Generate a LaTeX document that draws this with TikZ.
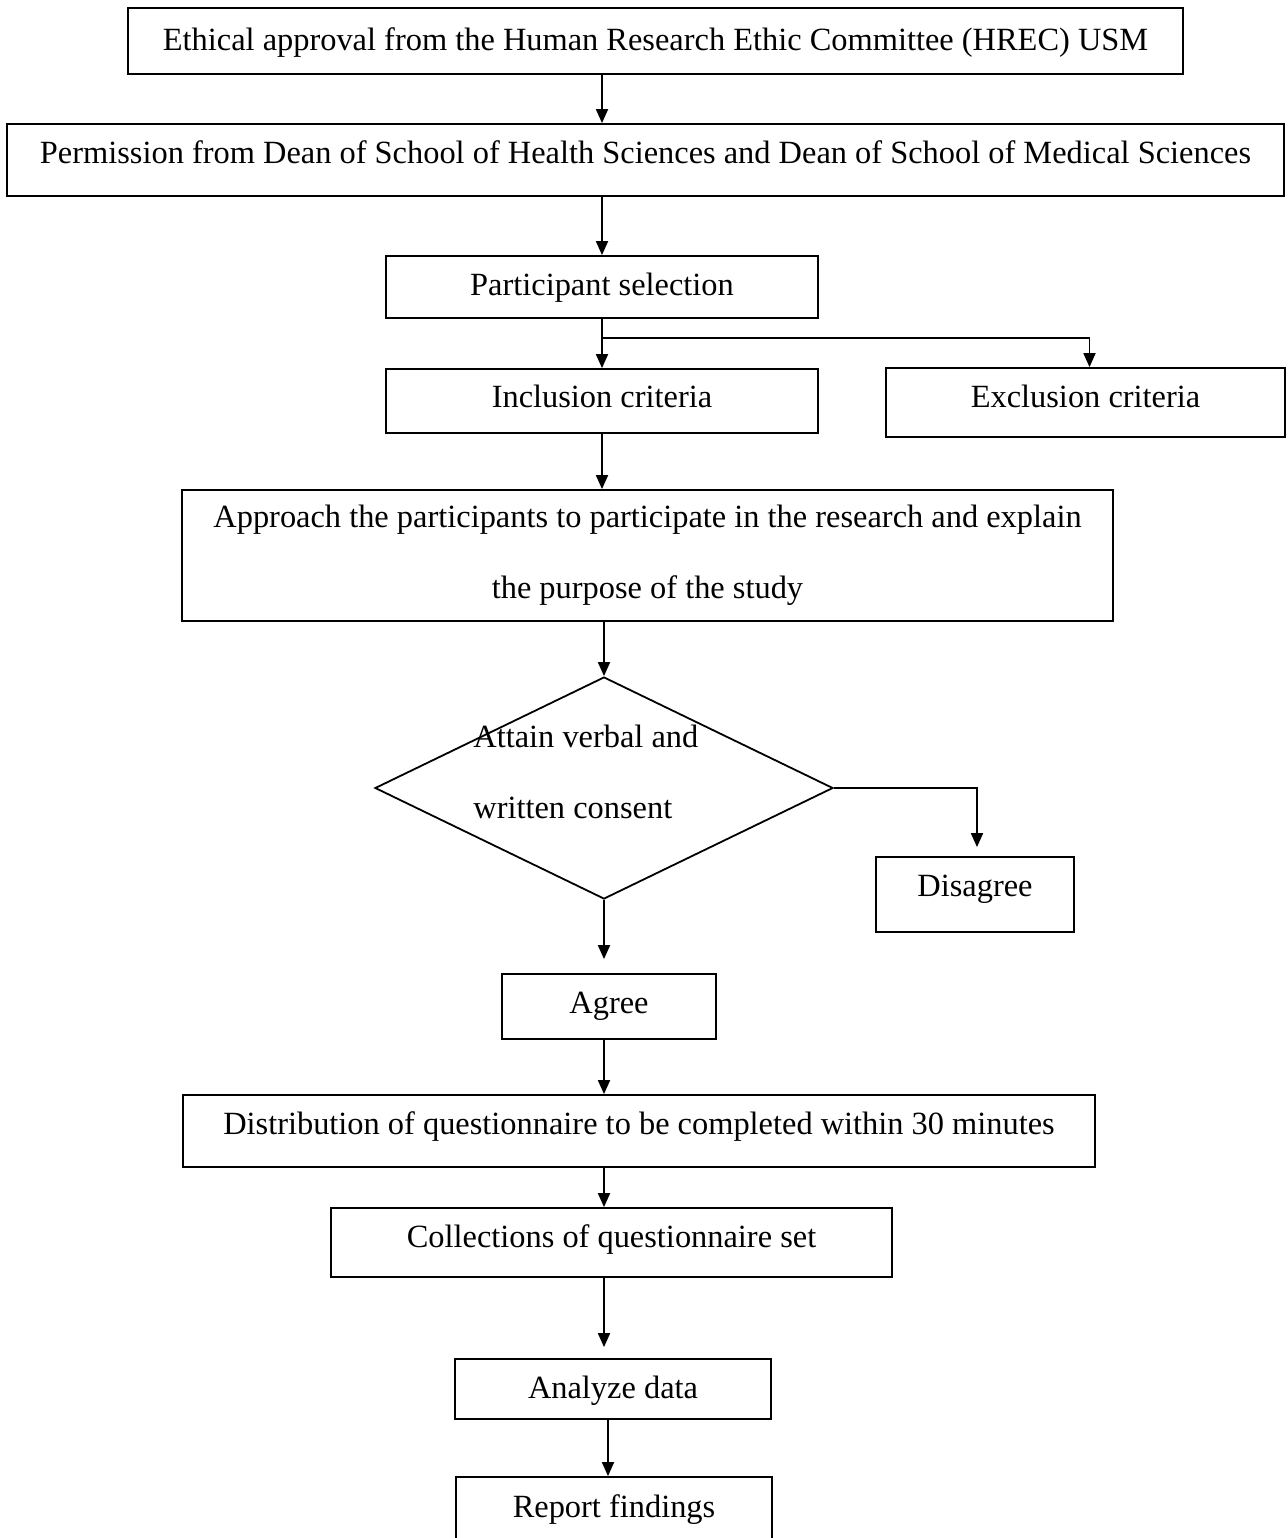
\documentclass[tikz,border=0pt]{standalone}
\usepackage{fontspec}
\setmainfont{Liberation Serif}
\usetikzlibrary{shapes.geometric,arrows.meta}
\newcommand\flowfont{\fontsize{16.2}{19}\selectfont}
\tikzset{
  box/.style={draw, line width=0.9pt, inner sep=0pt, font=\flowfont,
              text height=14.5pt, text depth=#1},
  box/.default=4pt,
  arr/.style={line width=0.9pt, -{Triangle[length=7pt,width=6pt]}},
  link/.style={line width=0.9pt}
}
\begin{document}
\begin{tikzpicture}[x=0.5pt,y=-0.5pt]
\useasboundingbox (0,0) rectangle (1287,1538);

% process boxes
\node[box=5pt,  minimum width=527.5pt, minimum height=33pt] (eth) at (655.5,41)
  {Ethical approval from the Human Research Ethic Committee (HREC) USM};
\node[box=11pt, minimum width=638.5pt, minimum height=36pt] (perm) at (645.5,160)
  {Permission from Dean of School of Health Sciences and Dean of School of Medical Sciences};
\node[box=6pt,  minimum width=216pt, minimum height=31pt] (sel) at (602,287)
  {Participant selection};
\node[box=8pt,  minimum width=216pt, minimum height=32pt] (inc) at (602,401)
  {Inclusion criteria};
\node[box=9.5pt, minimum width=199.5pt, minimum height=34.5pt] (exc) at (1085.5,402.5)
  {Exclusion criteria};
\node[draw, line width=0.9pt, inner sep=0pt, font=\flowfont, align=center,
      minimum width=465.5pt, minimum height=65.5pt] (app) at (647.5,555.5)
  {Approach the participants to participate in the research and explain\\[16.5pt]
   the purpose of the study};

% decision
\node[diamond, draw, line width=0.9pt, inner sep=0pt,
      minimum width=229pt, minimum height=111pt] (dia) at (604,788) {};
\node[font=\flowfont, align=left, inner sep=0pt, anchor=west] (dtext) at (473,771.5)
  {Attain verbal and\\[16.5pt]written consent};

\node[box=12.5pt, minimum width=99pt, minimum height=37.5pt] (dis) at (975,894.5)
  {Disagree};
\node[box=7.5pt, minimum width=107pt, minimum height=32.5pt] (agr) at (609,1006.5)
  {Agree};
\node[box=11pt, minimum width=456pt, minimum height=36pt] (dist) at (639,1131)
  {Distribution of questionnaire to be completed within 30 minutes};
\node[box=9.5pt, minimum width=280.5pt, minimum height=34.5pt] (col) at (611.5,1242.5)
  {Collections of questionnaire set};
\node[box=5pt, minimum width=158pt, minimum height=30pt] (ana) at (613,1389)
  {Analyze data};
\node[box=6pt, minimum width=158pt, minimum height=32pt] (rep) at (614,1509)
  {Report findings};

% connectors
\coordinate (br) at (602,338);
\draw[arr] (eth.south -| sel) -- (perm.north -| sel);
\draw[arr] (perm.south -| sel) -- (sel.north);
\draw[arr] (sel.south) -- (inc.north);
\draw[arr] (br) -| ([xshift=2pt]exc.north);
\draw[arr] (inc.south) -- (app.north -| inc);
\draw[arr] (app.south -| dia) -- (dia.north);
\draw[arr, shorten >=4.5pt] (dia.east) -| ([xshift=1pt]dis.north);
\draw[arr, shorten >=7pt] (dia.south) -- (agr.north -| dia);
\draw[arr] (agr.south -| dia) -- (dist.north -| dia);
\draw[arr] (dist.south -| dia) -- (col.north -| dia);
\draw[arr, shorten >=5.5pt] (col.south -| dia) -- (ana.north -| dia);
\draw[arr] ([xshift=-3pt]ana.south -| rep) -- ([xshift=-3pt]rep.north);
\end{tikzpicture}
\end{document}
